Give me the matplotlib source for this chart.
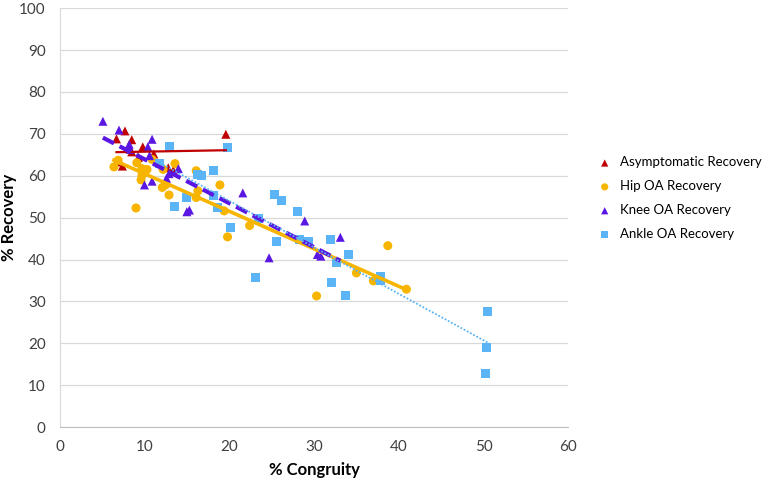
import numpy as np
import matplotlib
matplotlib.use("Agg")
import matplotlib.pyplot as plt

plt.rcParams['font.family'] = ['Lato', 'DejaVu Sans']

# values (% congruity, % recovery)
asym_x = [6.7, 7.7, 8.5, 9.8, 8.5, 9.3, 11.1, 6.7, 7.4, 12.8, 19.6, 13.4]
asym_y = [68.8, 70.7, 68.6, 66.9, 65.7, 64.4, 65.2, 63.3, 62.3, 61.9, 69.9, 61.3]

hip_x = [6.4, 6.9, 9.1, 9.7, 10.3, 9.7, 9.6, 10.9, 12.2, 13.6, 12.1, 12.5, 12.9,
         9.0, 16.1, 16.3, 16.1, 18.9, 19.4, 19.8, 22.4, 30.3, 35.0, 37.0, 38.7,
         40.9, 10.0]
hip_y = [62.1, 63.7, 63.1, 61.7, 61.5, 60.1, 59.0, 63.9, 61.5, 62.9, 57.2, 57.8,
         55.4, 52.3, 61.2, 56.4, 54.8, 57.8, 51.6, 45.4, 48.1, 31.3, 36.8, 34.9,
         43.3, 32.9, 60.8]

knee_x = [5.1, 7.0, 8.2, 8.3, 10.9, 10.4, 10.6, 10.0, 10.9, 12.6, 12.9, 14.0,
          15.0, 15.3, 21.6, 28.9, 24.7, 30.4, 30.8, 33.1]
knee_y = [73.0, 70.9, 67.5, 66.3, 68.7, 66.9, 64.8, 57.8, 58.7, 59.4, 60.5, 61.7,
          51.4, 51.8, 55.9, 49.2, 40.4, 41.2, 40.8, 45.3]

ankle_x = [12.9, 19.8, 11.8, 16.3, 16.7, 18.1, 15.0, 13.5, 18.1, 18.6, 20.2, 23.1,
           23.4, 25.3, 26.2, 28.1, 25.6, 28.3, 29.3, 31.9, 34.1, 32.7, 32.1, 33.7,
           37.8, 37.8, 50.5, 50.3, 50.2]
ankle_y = [66.9, 66.7, 62.9, 60.4, 60.0, 61.2, 54.8, 52.6, 55.4, 52.4, 47.7, 35.8,
           49.8, 55.6, 54.0, 51.5, 44.4, 44.8, 44.4, 44.8, 41.2, 39.4, 34.4, 31.3,
           36.0, 34.9, 27.7, 19.0, 12.8]

series = [
    ("Asymptomatic Recovery", asym_x, asym_y, "^", "#C00000", dict(ls="-", lw=1.6)),
    ("Hip OA Recovery", hip_x, hip_y, "o", "#F7B500", dict(ls="-", lw=2.6)),
    ("Knee OA Recovery", knee_x, knee_y, "^", "#5A17E3", dict(ls=(0, (3, 1.5)), lw=3)),
    ("Ankle OA Recovery", ankle_x, ankle_y, "s", "#5AB4F5", dict(ls=(0, (1, 1)), lw=1.3)),
]

fig = plt.figure(figsize=(7.65, 4.82), dpi=100)
ax = fig.add_axes([0.078, 0.114, 0.665, 0.869])

handles = []
for name, xs, ys, mk, col, lstyle in series:
    h = ax.scatter(xs, ys, marker=mk, s=42, color=col, edgecolors="none",
                   zorder=3, label=name)
    handles.append(h)
# linear trend lines over each series' own x range
for name, xs, ys, mk, col, lstyle in series:
    xs = np.array(xs)
    k, b = np.polyfit(xs, ys, 1)
    xl = np.array([xs.min(), xs.max()])
    ax.plot(xl, k * xl + b, color=col, zorder=4, **lstyle)

ax.set_xlim(0, 60)
ax.set_ylim(0, 100)
ax.set_xticks(range(0, 61, 10))
ax.set_yticks(range(0, 101, 10))
ax.yaxis.grid(True, color="#D9D9D9", lw=0.9)
ax.set_axisbelow(True)
ax.tick_params(length=0, labelsize=11, colors="#404040")
ax.tick_params(axis="y", pad=10)
ax.tick_params(axis="x", pad=9)
for s in ["top", "right"]:
    ax.spines[s].set_visible(False)
ax.spines["left"].set_color("#D9D9D9")
ax.spines["bottom"].set_color("#BFBFBF")

ax.set_xlabel("% Congruity", fontsize=12, fontweight="bold", labelpad=6)
ax.set_ylabel("% Recovery", fontsize=12, fontweight="bold")
ax.yaxis.set_label_coords(-0.083, 0.5)

fig.legend(handles=handles, loc="upper left", bbox_to_anchor=(0.762, 0.70),
           frameon=False, fontsize=9.5, handletextpad=0.4, labelspacing=0.9,
           handlelength=1.5, markerscale=0.8, scatterpoints=1)

fig.savefig("out.png", dpi=100)
